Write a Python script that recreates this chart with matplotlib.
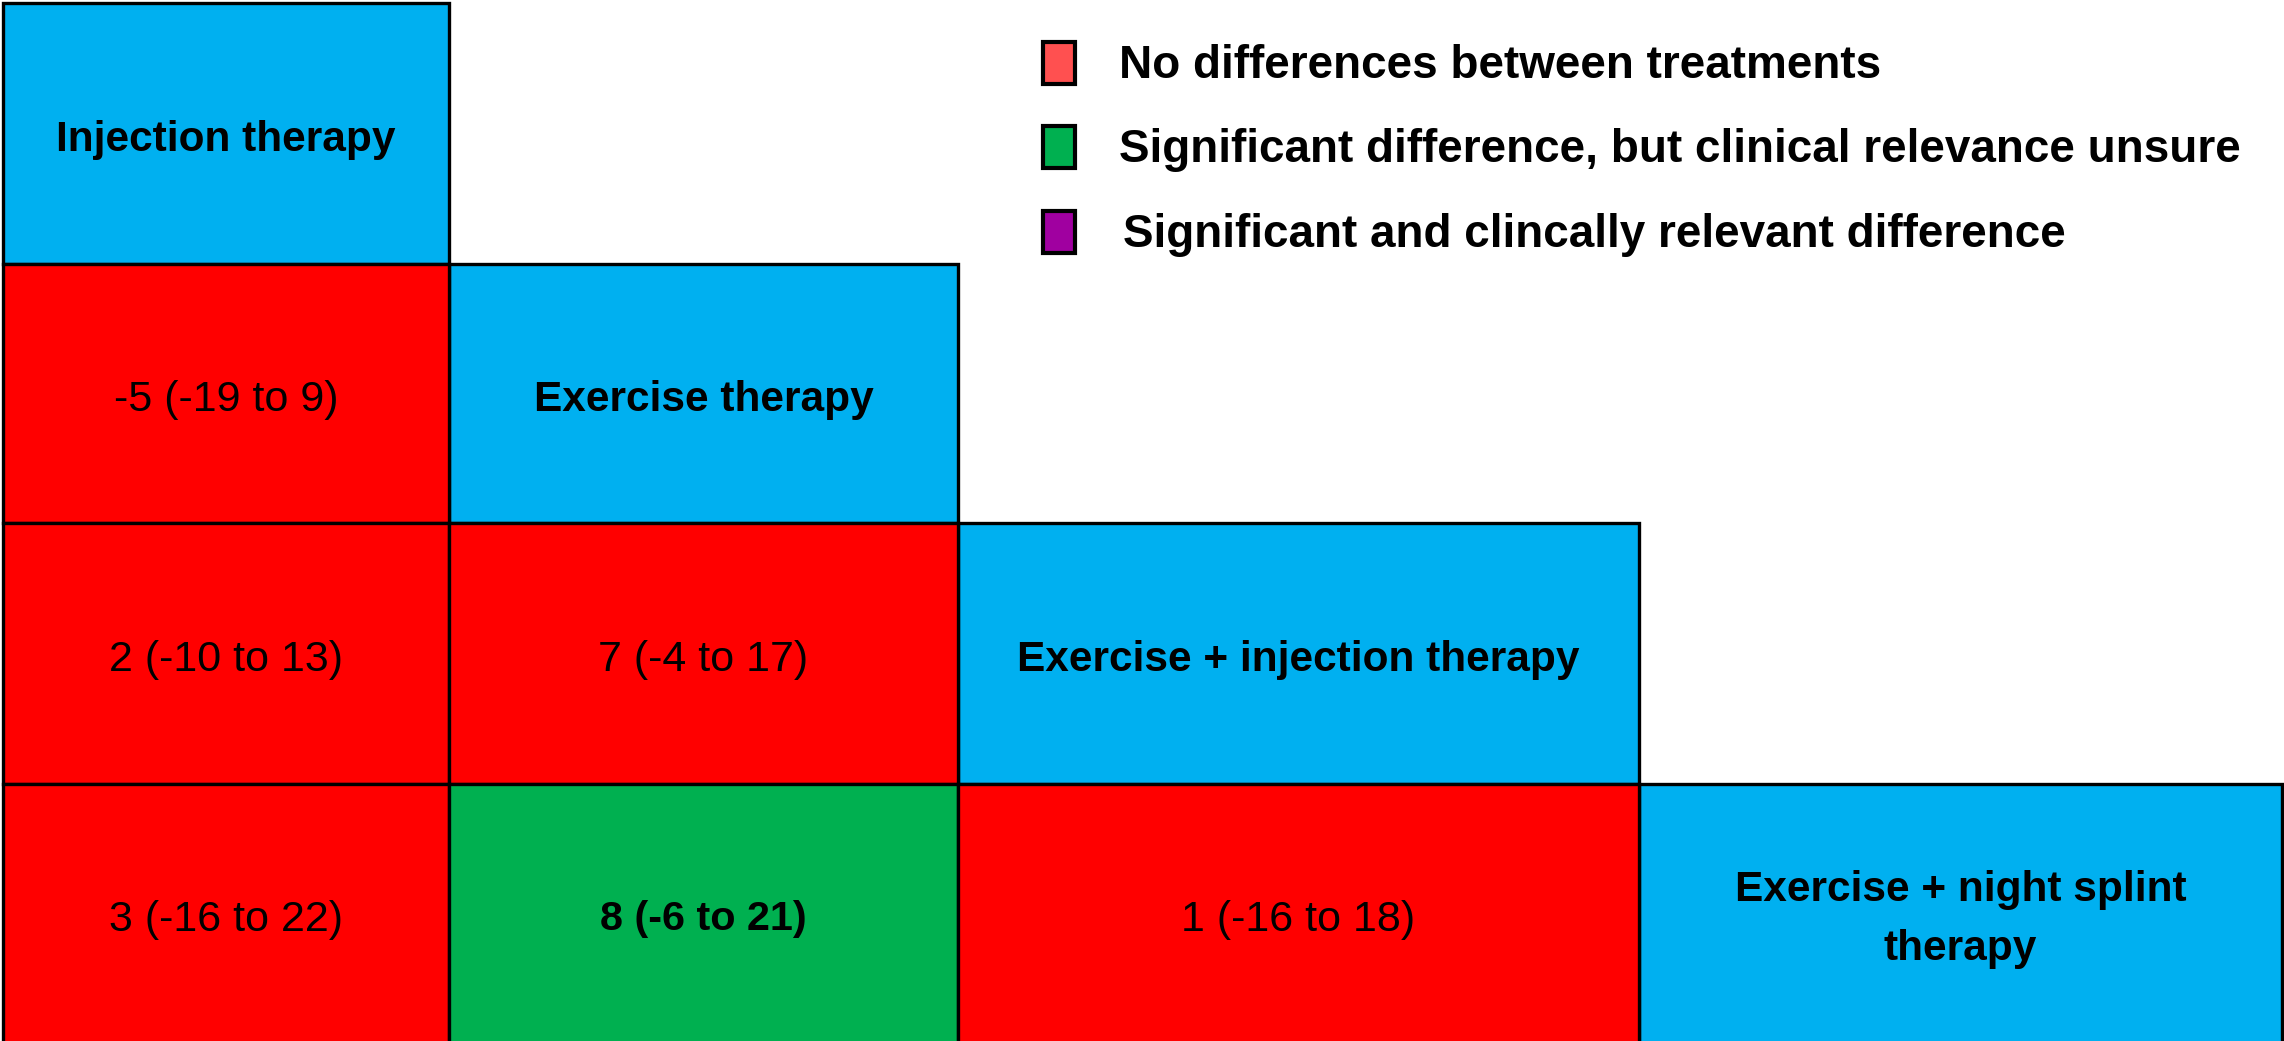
import matplotlib
matplotlib.use("Agg")
import matplotlib.pyplot as plt
from matplotlib.patches import Rectangle

plt.rcParams['font.family'] = ['Liberation Sans', 'DejaVu Sans']

# ---- data ----
treatments = ["Injection therapy", "Exercise therapy", "Exercise + injection therapy",
              "Exercise + night splint\ntherapy"]
# lower-triangle comparison values: (row, col, text, category)
cell_rows = [1, 2, 2, 3, 3, 3]
cell_cols = [0, 0, 1, 0, 1, 2]
cell_texts = ["-5 (-19 to 9)", "2 (-10 to 13)", "7 (-4 to 17)",
              "3 (-16 to 22)", "8 (-6 to 21)", "1 (-16 to 18)"]
cell_cats = [0, 0, 0, 0, 1, 0]
legend_labels = ["No differences between treatments",
                 "Significant difference, but clinical relevance unsure",
                 "Significant and clincally relevant difference"]

# ---- style / layout ----
cat_colors = ["#FF0000", "#00B050", "#A000A0"]
legend_colors = ["#FF5050", "#00B050", "#A000A0"]
diag_color = "#00B0F0"
col_edges = [3, 449, 958, 1639, 2282]
row_edges = [3, 264, 523, 784, 1060]
W, H = 2284, 1041
TEXT_DY = 7

fig = plt.figure(figsize=(W / 100, H / 100), dpi=100)
ax = fig.add_axes([0, 0, 1, 1])
ax.set_xlim(0, W)
ax.set_ylim(H, 0)
ax.axis("off")

def cell(r, c, color):
    x0, x1 = col_edges[c], col_edges[c + 1]
    y0, y1 = row_edges[r], row_edges[r + 1]
    ax.add_patch(Rectangle((x0, y0), x1 - x0, y1 - y0, facecolor=color,
                           edgecolor="black", linewidth=2.4))
    cy = (y0 + min(y1, H)) / 2 + TEXT_DY
    return (x0 + x1) / 2, cy

for i, name in enumerate(treatments):
    cx, cy = cell(i, i, diag_color)
    ax.text(cx, cy, name, ha="center", va="center", fontsize=30.5,
            fontweight="bold", color="black", linespacing=1.62)

for r, c, t, k in zip(cell_rows, cell_cols, cell_texts, cell_cats):
    cx, cy = cell(r, c, cat_colors[k])
    ax.text(cx, cy, t, ha="center", va="center",
            fontsize=29.8 if k == 1 else 31,
            fontweight="bold" if k == 1 else "normal", color="black")

# legend
leg_y = [63, 147, 232]
for i, (lab, col) in enumerate(zip(legend_labels, legend_colors)):
    ax.add_patch(Rectangle((1043, leg_y[i] - 21), 32, 42, facecolor=col,
                           edgecolor="black", linewidth=3))
    ax.text(1119 + (4 if i == 2 else 0), leg_y[i] + 3, lab, ha="left", va="center",
            fontsize=33, fontweight="bold", color="black")

fig.savefig("out.png", dpi=100, facecolor="white")
